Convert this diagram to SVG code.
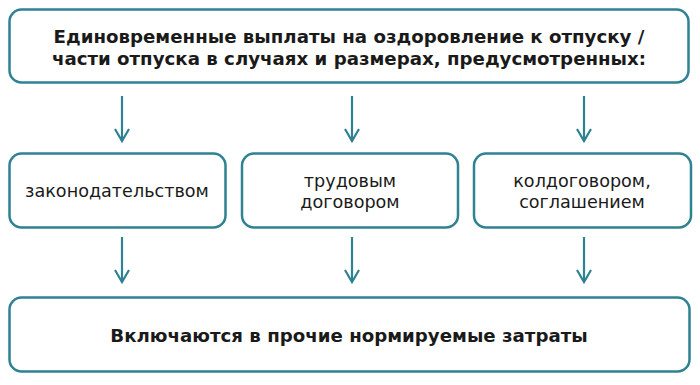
<svg xmlns="http://www.w3.org/2000/svg" width="700" height="385" viewBox="0 0 700 385">
<style>
.box{fill:#fff;stroke:#2e8292;stroke-width:2.5}
.t{font-family:"DejaVu Sans",Verdana,sans-serif;font-size:17.6px;fill:#1a1a1a;text-anchor:middle}
.b{font-weight:bold;font-size:18.2px}
.c line,.c polyline{stroke:#2e8292;stroke-width:2.2;fill:none}
</style>
<rect width="700" height="385" fill="#fff"/>
<g id="top">
<rect class="box" x="9.5" y="9.5" width="679" height="73" rx="12"/>
<text class="t b" x="349" y="43">Единовременные выплаты на оздоровление к отпуску /</text>
<text class="t b" x="349" y="65">части отпуска в случаях и размерах, предусмотренных:</text>
</g>
<g id="law">
<rect class="box" x="9.5" y="153.5" width="216" height="74" rx="12"/>
<text class="t" x="117" y="197">законодательством</text>
</g>
<g id="labor">
<rect class="box" x="242" y="153.5" width="216" height="74" rx="12"/>
<text class="t" x="350" y="187">трудовым</text>
<text class="t" x="350" y="208">договором</text>
</g>
<g id="collective">
<rect class="box" x="474" y="153.5" width="217" height="74" rx="12"/>
<text class="t" x="582" y="187">колдоговором,</text>
<text class="t" x="582" y="208">соглашением</text>
</g>
<g id="bottom">
<rect class="box" x="9.5" y="297.5" width="680" height="74" rx="12"/>
<text class="t b" x="349" y="342">Включаются в прочие нормируемые затраты</text>
</g>
<g class="c" id="connectors">
<line x1="122" y1="96" x2="122" y2="141"/><polyline points="115,129 122,141 129,129"/>
<line x1="352" y1="96" x2="352" y2="141"/><polyline points="345,129 352,141 359,129"/>
<line x1="584" y1="96" x2="584" y2="141"/><polyline points="577,129 584,141 591,129"/>
<line x1="122" y1="237" x2="122" y2="282"/><polyline points="115,270 122,282 129,270"/>
<line x1="352" y1="237" x2="352" y2="282"/><polyline points="345,270 352,282 359,270"/>
<line x1="584" y1="237" x2="584" y2="282"/><polyline points="577,270 584,282 591,270"/>
</g>
</svg>
